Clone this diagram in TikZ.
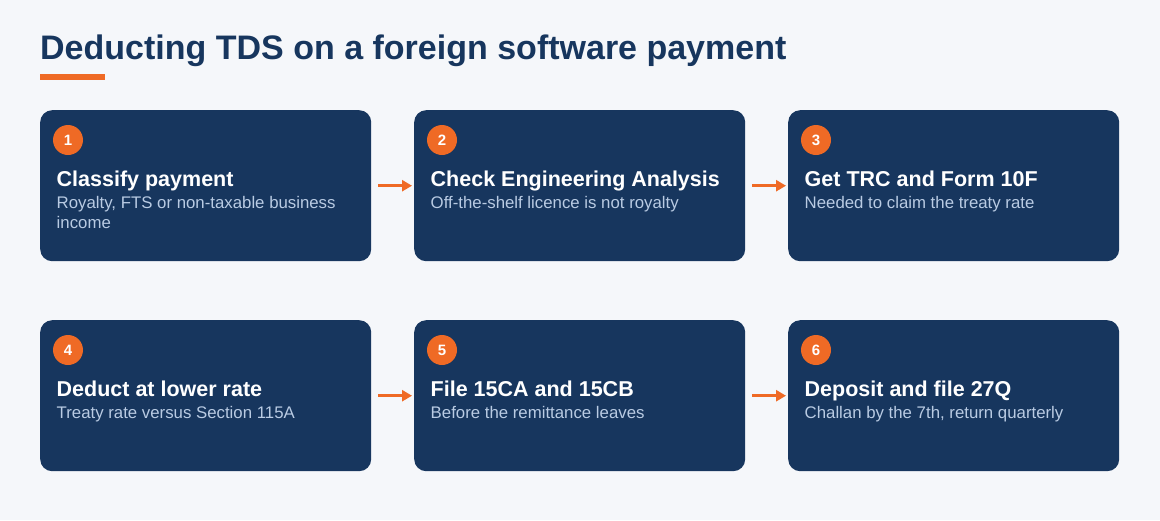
\documentclass[tikz,border=0pt]{standalone}
\usepackage{fontspec}
\setmainfont{Liberation Sans}
\usetikzlibrary{arrows.meta}
\definecolor{bgc}{HTML}{F5F7FA}
\definecolor{navy}{HTML}{17365E}
\definecolor{accent}{HTML}{EF6A25}
\definecolor{subc}{HTML}{B9CBE3}
\tikzset{
  card/.style={fill=navy, rounded corners=12pt, minimum width=331pt, minimum height=151pt, anchor=north west, inner sep=0pt},
  badge/.style={circle, fill=accent, minimum size=30pt, inner sep=0pt, text=white, font=\fontsize{15}{18}\selectfont\bfseries},
  cardtitle/.style={anchor=base west, inner sep=0pt, text=white, font=\fontsize{21.5}{24}\selectfont\bfseries},
  cardsub/.style={anchor=base west, inner sep=0pt, text=subc, font=\fontsize{16.8}{19.5}\selectfont},
  flow/.style={draw=accent, line width=3pt, -{Triangle[length=10pt,width=11pt]}, shorten <=7pt, shorten >=2pt},
}
\begin{document}
\begin{tikzpicture}[x=1pt,y=-1pt]
\fill[bgc] (0,0) rectangle (1160,520);
\useasboundingbox (0,0) rectangle (1160,520);
\node[anchor=base west, inner sep=0pt, text=navy, font=\fontsize{34}{40}\selectfont\bfseries] (title) at (40,59) {Deducting TDS on a foreign software payment};
\fill[accent] (40,74) rectangle (105,80);
\node[card] (box1) at (40,110) {};
\node[card] (box2) at (414,110) {};
\node[card] (box3) at (788,110) {};
\node[card] (box4) at (40,320) {};
\node[card] (box5) at (414,320) {};
\node[card] (box6) at (788,320) {};
\foreach \b/\x/\y/\n in {b1/68/140/1, b2/442/140/2, b3/816/140/3, b4/68/350/4, b5/442/350/5, b6/816/350/6}
  \node[badge] (\b) at (\x,\y) {\n};
\node[cardtitle] (t1) at (56.5,186) {Classify payment};
\node[cardsub] (s1) at (56.5,208.5) {Royalty, FTS or non-taxable business};
\node[cardsub] (s1b) at (56.5,228) {income};
\node[cardtitle] (t2) at (430.5,186) {Check Engineering Analysis};
\node[cardsub] (s2) at (430.5,208.5) {Off-the-shelf licence is not royalty};
\node[cardtitle] (t3) at (804.5,186) {Get TRC and Form 10F};
\node[cardsub] (s3) at (804.5,208.5) {Needed to claim the treaty rate};
\node[cardtitle] (t4) at (56.5,396) {Deduct at lower rate};
\node[cardsub] (s4) at (56.5,418.5) {Treaty rate versus Section 115A};
\node[cardtitle] (t5) at (430.5,396) {File 15CA and 15CB};
\node[cardsub] (s5) at (430.5,418.5) {Before the remittance leaves};
\node[cardtitle] (t6) at (804.5,396) {Deposit and file 27Q};
\node[cardsub] (s6) at (804.5,418.5) {Challan by the 7th, return quarterly};
\draw[flow] (box1.east) -- (box2.west);
\draw[flow] (box2.east) -- (box3.west);
\draw[flow] (box4.east) -- (box5.west);
\draw[flow] (box5.east) -- (box6.west);
\end{tikzpicture}
\end{document}
